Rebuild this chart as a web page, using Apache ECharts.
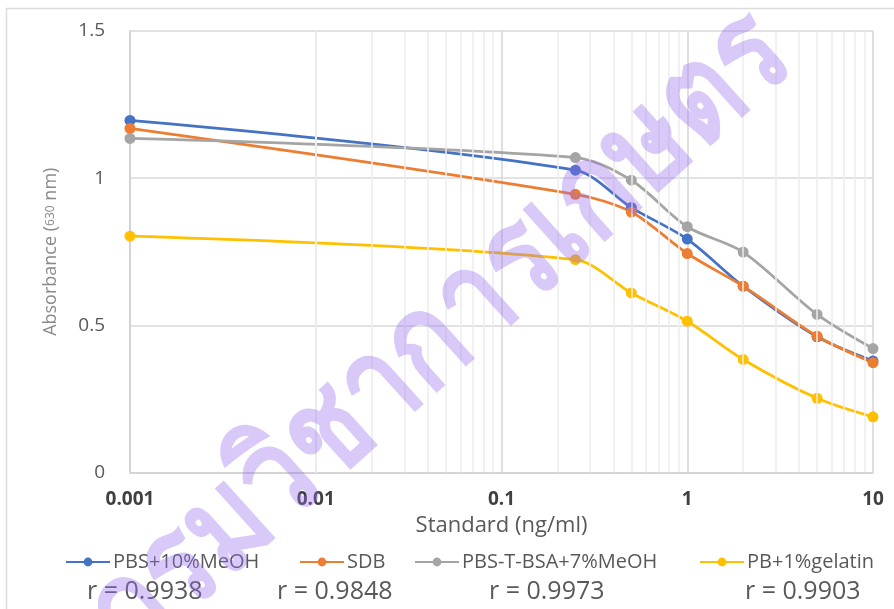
<!DOCTYPE html>
<html>
<head>
<meta charset="utf-8">
<script src="https://cdn.jsdelivr.net/npm/echarts@6/dist/echarts.min.js"></script>
<style>
html,body{margin:0;padding:0;background:#fff;}
#c{width:894px;height:609px;}
</style>
</head>
<body>
<div id="c"></div>
<script>
// ---- data ----
const xValues = [0.001, 0.25, 0.5, 1, 2, 5, 10];
const seriesNames = ['PBS+10%MeOH', 'SDB', 'PBS-T-BSA+7%MeOH', 'PB+1%gelatin'];
const pbsMeoh = [1.196, 1.027, 0.90, 0.793, 0.633, 0.461, 0.379];
const sdb = [1.169, 0.945, 0.885, 0.744, 0.633, 0.463, 0.373];
const pbsTBsa = [1.135, 1.070, 0.993, 0.835, 0.749, 0.537, 0.421];
const pbGelatin = [0.803, 0.723, 0.610, 0.514, 0.384, 0.252, 0.189];
const rValues = ['r = 0.9938', 'r = 0.9848', 'r = 0.9973', 'r = 0.9903'];
const xTickLabels = ['0.001', '0.01', '0.1', '1', '10'];
const minorX = [0.002,0.003,0.004,0.005,0.006,0.007,0.008,0.009,
                0.02,0.03,0.04,0.05,0.06,0.07,0.08,0.09,
                0.2,0.3,0.4,0.5,0.6,0.7,0.8,0.9,
                2,3,4,5,6,7,8,9];
const watermarkText = 'กรมวิชาการเกษตร';

const colors = ['#4472C4', '#ED7D31', '#A5A5A5', '#FFC000'];
const allValues = [pbsMeoh, sdb, pbsTBsa, pbGelatin];
const FONT = '"Open Sans", "Segoe UI", sans-serif';

const chart = echarts.init(document.getElementById('c'));

const mainSeries = seriesNames.map((n, i) => ({
  name: n,
  type: 'line',
  data: xValues.map((x, j) => [x, allValues[i][j]]),
  smooth: 0.3,
  symbol: 'circle',
  symbolSize: 11,
  lineStyle: {width: 2.75, color: colors[i]},
  itemStyle: {color: colors[i]},
  z: 3
}));

const legendLefts = [60, 294, 409, 694];
const legends = seriesNames.map((n, i) => ({
  data: [n],
  left: legendLefts[i],
  top: 547,
  itemWidth: 44,
  itemHeight: 11,
  itemGap: 0,
  textStyle: {color: '#595959', fontSize: 20, fontFamily: FONT, padding: [0,0,0,-2]},
  selectedMode: false
}));

const rLefts = [87, 277, 489, 745];

chart.setOption({
  animation: false,
  color: colors,
  grid: {left: 130, right: 21, top: 31, bottom: 136.5},
  xAxis: {
    type: 'log',
    logBase: 10,
    min: 0.001,
    max: 10,
    name: 'Standard (ng/ml)',
    nameLocation: 'middle',
    nameGap: 41,
    nameTextStyle: {color: '#595959', fontSize: 22, fontFamily: FONT},
    axisLine: {show: true, lineStyle: {color: '#cfcfcf', width: 1.5}},
    axisTick: {show: false},
    axisLabel: {
      color: '#404040', fontSize: 19, fontWeight: 'bold', fontFamily: FONT, margin: 18,
      formatter: v => xTickLabels[Math.round(Math.log10(v)) + 3]
    },
    splitLine: {show: true, lineStyle: {color: '#d6d6d6', width: 1.5}}
  },
  yAxis: {
    type: 'value',
    min: 0,
    max: 1.5,
    interval: 0.5,
    name: '{a|Absorbance (}{b|630}{a| nm)}',
    nameLocation: 'middle',
    nameGap: 70,
    nameTextStyle: {
      color: '#7f7f7f', fontFamily: FONT,
      rich: {a: {fontSize: 18, color: '#8a8a8a', fontFamily: FONT}, b: {fontSize: 12, color: '#8a8a8a', fontFamily: FONT}}
    },
    axisLine: {show: true, lineStyle: {color: '#cfcfcf', width: 1.5}},
    axisTick: {show: false},
    axisLabel: {color: '#595959', fontSize: 19, fontFamily: FONT, margin: 25},
    splitLine: {show: true, lineStyle: {color: '#d9d9d9', width: 1.5}}
  },
  legend: legends,
  series: [
    {
      name: 'minor', type: 'line', data: [], z: 1, silent: true,
      markLine: {
        silent: true, symbol: 'none', animation: false,
        label: {show: false},
        lineStyle: {color: '#ededed', type: 'solid', width: 1.5},
        data: minorX.map(v => ({xAxis: v}))
      }
    },
    ...mainSeries
  ],
  graphic: [
    {type: 'rect', shape: {x: 6.5, y: 8.5, width: 900, height: 620}, style: {fill: 'none', stroke: '#dcdcdc', lineWidth: 1.5}, silent: true, z: 0},
    ...rValues.map((t, i) => ({
      type: 'text', left: rLefts[i], top: 579,
      style: {text: t, fill: '#595959', font: '25px ' + FONT},
      z: 10
    })),
    {
      type: 'text', x: 440, y: 336, rotation: 42 * Math.PI / 180, scaleY: 1.2,
      style: {text: watermarkText, fill: 'rgba(150,105,235,0.36)', font: 'bold 110px "Noto Sans", "DejaVu Sans", sans-serif', align: 'center', verticalAlign: 'middle'},
      silent: true, z: 100
    }
  ]
});
</script>
</body>
</html>
